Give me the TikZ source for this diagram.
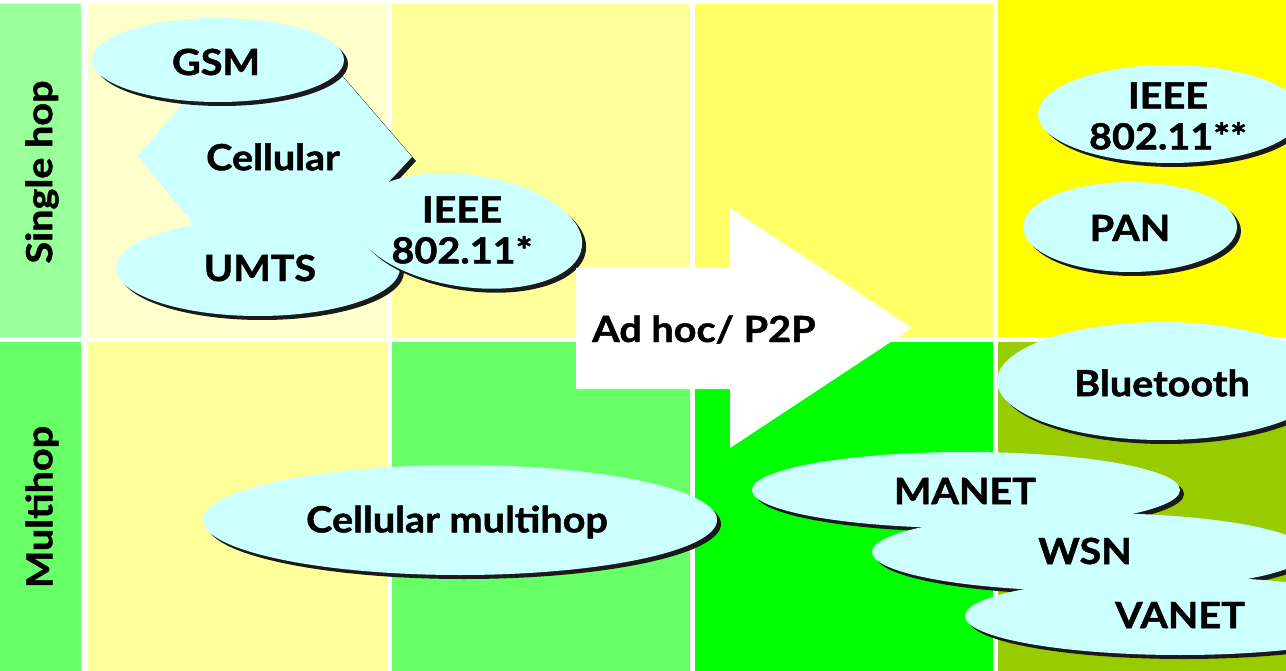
\documentclass[tikz,border=0pt]{standalone}
\usepackage{fontspec}
\setmainfont{Lato}[BoldFeatures={FakeBold=1.3,FakeStretch=1.1}]
\usetikzlibrary{shapes.geometric,shadows}
\definecolor{labtop}{HTML}{99FF99}
\definecolor{labbot}{HTML}{66FF66}
\definecolor{cAtop}{HTML}{FFFFCC}
\definecolor{cAbot}{HTML}{FFFF99}
\definecolor{cBtop}{HTML}{FFFF99}
\definecolor{cBbot}{HTML}{66FF66}
\definecolor{cCtop}{HTML}{FFFF66}
\definecolor{cCbot}{HTML}{00FF00}
\definecolor{cDtop}{HTML}{FFFF00}
\definecolor{cDbot}{HTML}{99CC00}
\definecolor{bub}{HTML}{CCFFFF}
\definecolor{shad}{HTML}{1A1A1A}
\tikzset{
  bubble/.style={ellipse, fill=bub, inner sep=0pt, outer sep=0pt,
    drop shadow={shadow xshift=4pt, shadow yshift=-4pt, opacity=1, fill=shad}},
  lbl/.style={font=\fontsize{36}{41}\selectfont\bfseries, align=center, text=black, inner sep=0pt},
}
\begin{document}
\begin{tikzpicture}[x=1pt,y=-1pt]
\useasboundingbox (0,0) rectangle (1286,671);
\fill[white] (0,0) rectangle (1286,671);
% grid cells
\fill[labtop] (0,4) rectangle (81,337);
\fill[labbot] (0,342) rectangle (81,671);
\fill[cAtop] (88,4) rectangle (388,337);
\fill[cAbot] (88,342) rectangle (388,671);
\fill[cBtop] (392,4) rectangle (690,337);
\fill[cBbot] (392,342) rectangle (690,671);
\fill[cCtop] (695,4) rectangle (993,337);
\fill[cCbot] (695,342) rectangle (993,671);
\fill[cDtop] (998,0) rectangle (1286,337);
\fill[cDbot] (998,342) rectangle (1286,671);
% row labels
\node[lbl, rotate=90] (single) at (42,172) {Single hop};
\node[lbl, rotate=90] (multi) at (42,507) {Multihop};
% Cellular diamond
\fill[shad, shift={(4,4)}] (138,156) -- (205,78) -- (330,62) -- (412,157) -- (385,186) -- (400,215) -- (300,270) -- (215,250) -- cycle;
\fill[bub] (138,156) -- (205,78) -- (330,62) -- (412,157) -- (385,186) -- (400,215) -- (300,270) -- (215,250) -- cycle;
\node[lbl] (cell) at (273,157) {Cellular};
% GSM, UMTS, IEEE 802.11*
\node[bubble, minimum width=252pt, minimum height=84pt] (gsm) at (218,60) {};
\node[lbl] (gsmt) at (216,62) {GSM};
\node[bubble, minimum width=284pt, minimum height=96pt] (umts) at (258,268) {};
\node[lbl] (umtst) at (260,268) {UMTS};
\fill[shad, shift={(4,4)}, rotate around={-8:(468,231)}] (468,231) ellipse [x radius=115, y radius=56];
\fill[bub, rotate around={-8:(468,231)}] (468,231) ellipse [x radius=115, y radius=56];
\node[lbl] (ieeea) at (462,230) {IEEE\\802.11*};
% arrow
\fill[white] (576,268) -- (730,268) -- (730,208) -- (912,328) -- (730,448) -- (730,389) -- (576,389) -- cycle;
\node[lbl, anchor=base west] (adhoc) at (592,342) {Ad hoc/ P2P};
% right column
\node[bubble, minimum width=264pt, minimum height=98pt] (ieeeb) at (1170,114) {};
\node[lbl] (ieeebt) at (1168,116) {IEEE\\802.11**};
\node[bubble, minimum width=214pt, minimum height=90pt] (pan) at (1130,227) {};
\node[lbl] (pant) at (1130,228) {PAN};
\node[bubble, minimum width=330pt, minimum height=118pt] (bt) at (1162,381) {};
\node[lbl] (btt) at (1162,383) {Bluetooth};
% multihop
\node[bubble, minimum width=514pt, minimum height=110pt] (cm) at (460,520) {};
\node[lbl] (cmt) at (457,522) {Cellular multihop};
\node[bubble, minimum width=428pt, minimum height=76pt] (manet) at (966,490) {};
\node[lbl] (manett) at (965,491) {MANET};
\node[bubble, minimum width=436pt, minimum height=78pt] (wsn) at (1090,552) {};
\node[lbl] (wsnt) at (1085,551) {WSN};
\node[bubble, minimum width=430pt, minimum height=78pt] (vanet) at (1180,616) {};
\node[lbl] (vanett) at (1180,615) {VANET};
\end{tikzpicture}
\end{document}
